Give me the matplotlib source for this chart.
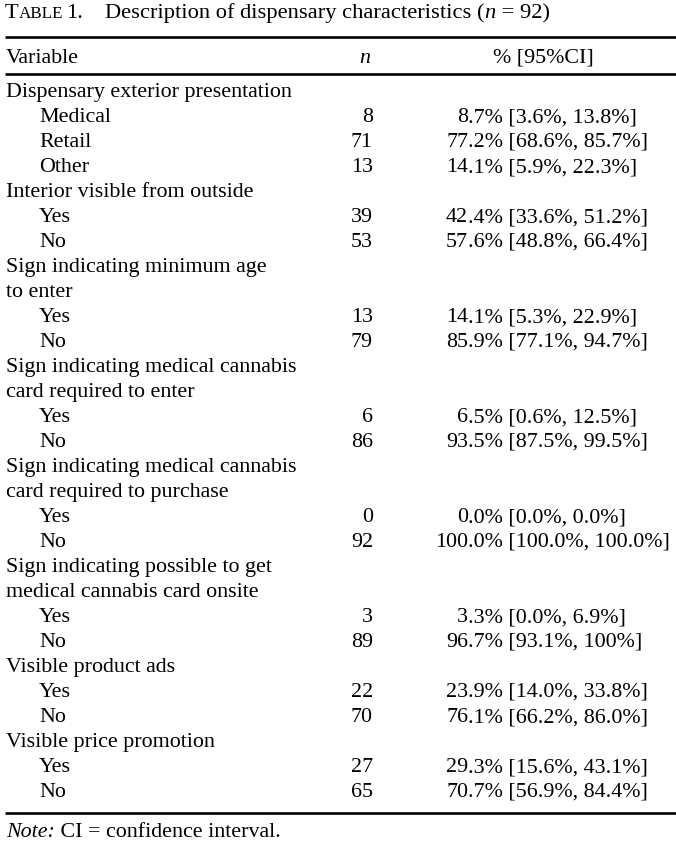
import matplotlib
matplotlib.use("Agg")
import matplotlib.pyplot as plt

# table content
labels = [
    "Dispensary exterior presentation", "Medical", "Retail", "Other",
    "Interior visible from outside", "Yes", "No",
    "Sign indicating minimum age", "to enter", "Yes", "No",
    "Sign indicating medical cannabis", "card required to enter", "Yes", "No",
    "Sign indicating medical cannabis", "card required to purchase", "Yes", "No",
    "Sign indicating possible to get", "medical cannabis card onsite", "Yes", "No",
    "Visible product ads", "Yes", "No",
    "Visible price promotion", "Yes", "No",
]
indent = [0, 1, 1, 1, 0, 1, 1, 0, 0, 1, 1, 0, 0, 1, 1, 0, 0, 1, 1, 0, 0, 1, 1,
          0, 1, 1, 0, 1, 1]
counts = ["", "8", "71", "13", "", "39", "53", "", "", "13", "79", "", "",
          "6", "86", "", "", "0", "92", "", "", "3", "89", "", "22", "70",
          "", "27", "65"]
pcts = ["", "8.7% [3.6%, 13.8%]", "77.2% [68.6%, 85.7%]", "14.1% [5.9%, 22.3%]",
        "", "42.4% [33.6%, 51.2%]", "57.6% [48.8%, 66.4%]",
        "", "", "14.1% [5.3%, 22.9%]", "85.9% [77.1%, 94.7%]",
        "", "", "6.5% [0.6%, 12.5%]", "93.5% [87.5%, 99.5%]",
        "", "", "0.0% [0.0%, 0.0%]", "100.0% [100.0%, 100.0%]",
        "", "", "3.3% [0.0%, 6.9%]", "96.7% [93.1%, 100%]",
        "", "23.9% [14.0%, 33.8%]", "76.1% [66.2%, 86.0%]",
        "", "29.3% [15.6%, 43.1%]", "70.7% [56.9%, 84.4%]"]

W, H = 676, 843
FONT = "Liberation Serif"
FS = 15.8
TFS = 16.2

fig = plt.figure(figsize=(W / 100, H / 100), dpi=100)
ax = fig.add_axes([0, 0, 1, 1])
ax.set_xlim(0, W)
ax.set_ylim(H, 0)
ax.axis("off")
fig.canvas.draw()
renderer = fig.canvas.get_renderer()


def inline(x, y, pieces, size=FS):
    # draw text pieces one after another on the same baseline
    for s, kw in pieces:
        t = ax.text(x, y, s, family=FONT, va="baseline", ha="left",
                    fontsize=kw.get("size", size), style=kw.get("style", "normal"))
        bb = t.get_window_extent(renderer)
        x += bb.width
    return x


# title, with small caps "Table"
inline(5, 18, [("T", {}), ("ABLE", {"size": TFS * 0.76})], size=TFS)
inline(66, 18, [("1.", {})], size=TFS)
inline(105, 18, [("Description of dispensary characteristics (", {}),
                 ("n", {"style": "italic"}), (" = 92)", {})], size=TFS)

# rules
for y in (36.5, 73.5, 813):
    ax.plot([5, W], [y, y], color="black", lw=1.9, solid_capstyle="butt")

# header
ax.text(6, 63, "Variable", family=FONT, fontsize=FS, va="baseline")
ax.text(365, 63, "n", family=FONT, fontsize=FS, style="italic",
        va="baseline", ha="center")
ax.text(543, 63, "% [95%CI]", family=FONT, fontsize=FS,
        va="baseline", ha="center")

# body rows
y0, dy = 97, (797 - 97) / (len(labels) - 1)
for i, (lab, ind, n, p) in enumerate(zip(labels, indent, counts, pcts)):
    y = y0 + i * dy
    ax.text(6 + 33 * ind, y, lab, family=FONT, fontsize=FS, va="baseline")
    if n:
        ax.text(373, y, n, family=FONT, fontsize=FS, va="baseline", ha="right")
    if p:
        head, tail = p.split(".", 1)
        ax.text(468, y, head, family=FONT, fontsize=FS, va="baseline", ha="right")
        ax.text(468, y, "." + tail, family=FONT, fontsize=FS, va="baseline", ha="left")

# note
inline(6, 837, [("Note:", {"style": "italic"}), (" CI = confidence interval.", {})])

fig.savefig("out.png", dpi=100)
